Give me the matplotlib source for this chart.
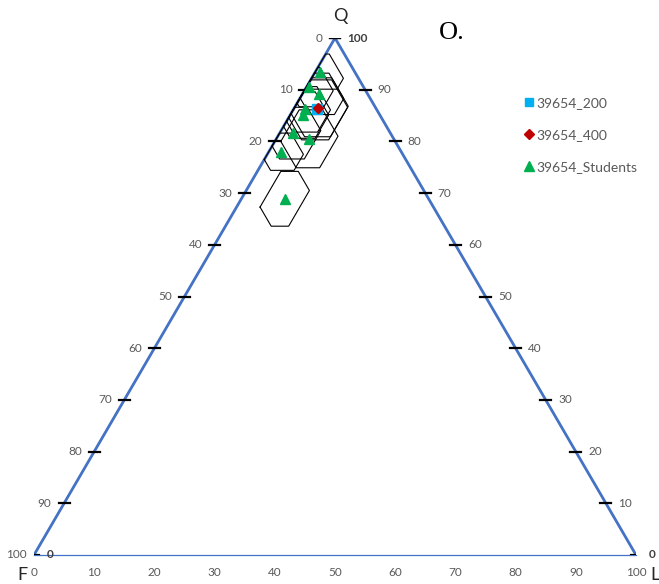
import numpy as np
import matplotlib.pyplot as plt
from matplotlib.lines import Line2D

# QFL compositions (percent): Q = quartz, F = feldspar, L = lithics
students_q = [93.5, 90.5, 89.2, 86.2, 85.1, 81.6, 80.5, 78.0, 68.9]
students_f = [5.7, 9.0, 8.0, 11.9, 12.8, 16.1, 14.0, 20.0, 23.9]
students_l = [0.8, 0.5, 2.8, 1.9, 2.1, 2.3, 5.5, 2.0, 7.2]
students_err_q = [3.4, 3.8, 4.0, 4.4, 4.5, 5.0, 5.6, 3.6, 5.3]
students_err_f = [3.2, 3.6, 3.6, 4.2, 4.3, 4.8, 5.0, 3.5, 4.9]
students_err_l = [4.5, 4.3, 4.5, 4.3, 4.3, 4.3, 4.5, 4.0, 3.3]

s200_q, s200_f, s200_l = [86.3], [9.9], [3.8]
s200_err = ([6.0], [5.5], [5.0])
s400_q, s400_f, s400_l = [86.4], [9.6], [4.0]
s400_err = ([5.5], [5.0], [4.8])

grid_ticks = list(range(0, 101, 10))

BLUE = '#4472C4'
GREY = '#595959'
H = np.sqrt(3) / 2


def to_xy(q, f, l):
    q = np.asarray(q, float)
    l = np.asarray(l, float)
    return l + q / 2, q * H


def hexagon(q0, f0, l0, dq, df, dl):
    """Corners of the error hexagon |Q-q0|<dq, |F-f0|<df, |L-l0|<dl (clipped at 0)."""
    q_lo, q_hi = max(0, q0 - dq), min(100, q0 + dq)
    l_lo, l_hi = max(0, l0 - dl), min(100, l0 + dl)
    f_lo, f_hi = max(0, f0 - df), min(100, f0 + df)
    s_lo, s_hi = 100 - f_hi, 100 - f_lo  # bounds on Q + L
    pts = []
    for q in (q_lo, q_hi):
        for l in (l_lo, l_hi):
            pts.append((q, l))
        for s in (s_lo, s_hi):
            pts.append((q, s - q))
    for l in (l_lo, l_hi):
        for s in (s_lo, s_hi):
            pts.append((s - l, l))
    eps = 1e-9
    good = [(q, l) for q, l in pts
            if q_lo - eps <= q <= q_hi + eps and l_lo - eps <= l <= l_hi + eps
            and s_lo - eps <= q + l <= s_hi + eps]
    good = np.array(good)
    x, y = to_xy(good[:, 0], 100 - good.sum(axis=1), good[:, 1])
    cx, cy = x.mean(), y.mean()
    order = np.argsort(np.arctan2(y - cy, x - cx))
    return np.append(x[order], x[order][0]), np.append(y[order], y[order][0])


fig = plt.figure(figsize=(6.59, 5.84), dpi=100)
ax = fig.add_axes([34 / 659, 29 / 584, 602 / 659, 517 / 584])
ax.set_xlim(0, 100)
ax.set_ylim(0, 100 * H)

# frame: only the bottom axis line is kept
for side in ('top', 'left', 'right'):
    ax.spines[side].set_visible(False)
ax.spines['bottom'].set_color(BLUE)
ax.spines['bottom'].set_linewidth(0.9)
ax.set_yticks([])
ax.set_xticks(grid_ticks)
ax.tick_params(axis='x', length=0, pad=9, labelsize=8.5, labelcolor=GREY)
for lab in ax.get_xticklabels():
    lab.set_fontfamily('Lato')

# triangle sides
ax.plot([0, 50, 100], [0, 100 * H, 0], color=BLUE, lw=2.0, zorder=2, solid_joinstyle='miter')

# tick dashes and percentage labels on both sides
for v in grid_ticks:
    # left side: F percentage
    xl, yl = to_xy(100 - v, v, 0)
    ax.plot([xl - 0.9, xl + 0.9], [yl, yl], color='black', lw=1.6, zorder=3)
    ax.annotate(str(v), (xl, yl), xytext=(-9 if v < 100 else -5, 0), textcoords='offset points',
                ha='right', va='center', fontsize=8.5, color=GREY, family='Lato')
    # right side: Q percentage
    xr, yr = to_xy(v, 0, 100 - v)
    ax.plot([xr - 0.9, xr + 0.9], [yr, yr], color='black', lw=1.6, zorder=3)
    bold = v in (0, 100)
    ax.annotate(str(v), (xr, yr), xytext=(9, 0), textcoords='offset points',
                ha='left', va='center', fontsize=8.5, family='Lato',
                color='#404040' if bold else GREY, fontweight='bold' if bold else 'normal')
# end value at the F corner
ax.annotate('0', (0, 0), xytext=(9, 0), textcoords='offset points', ha='left', va='center',
            fontsize=8.5, color='#404040', family='Lato', fontweight='bold')

# error hexagons
all_sets = [
    (s200_q, s200_f, s200_l) + s200_err,
    (s400_q, s400_f, s400_l) + s400_err,
    (students_q, students_f, students_l, students_err_q, students_err_f, students_err_l),
]
for qs, fs, ls, eq, ef, el in all_sets:
    for i in range(len(qs)):
        hx, hy = hexagon(qs[i], fs[i], ls[i], eq[i], ef[i], el[i])
        ax.plot(hx, hy, color='black', lw=0.8, zorder=4)

x200, y200 = to_xy(s200_q, s200_f, s200_l)
x400, y400 = to_xy(s400_q, s400_f, s400_l)
xs, ys = to_xy(students_q, students_f, students_l)
ax.plot(x200, y200, 's', color='#00B0F0', ms=6.5, zorder=5)
ax.plot(x400, y400, 'D', color='#C00000', ms=5.5, zorder=6)
ax.plot(xs, ys, '^', color='#00B050', ms=7, zorder=7)

# corner names and panel letter
fig.text(340 / 659, 1 - 16 / 584, 'Q', ha='center', va='center', fontsize=13, family='Lato', color='#262626')
fig.text(22 / 659, 1 - 575 / 584, 'F', ha='center', va='center', fontsize=13, family='Lato', color='#262626')
fig.text(655 / 659, 1 - 575 / 584, 'L', ha='center', va='center', fontsize=13, family='Lato', color='#262626')
fig.text(452 / 659, 1 - 33 / 584, 'O.', ha='center', va='center', fontsize=19, family='Liberation Serif')

handles = [
    Line2D([], [], ls='none', marker='s', color='#00B0F0', ms=6),
    Line2D([], [], ls='none', marker='D', color='#C00000', ms=5.5),
    Line2D([], [], ls='none', marker='^', color='#00B050', ms=7),
]
fig.legend(handles, ['39654_200', '39654_400', '39654_Students'], loc='upper left',
           bbox_to_anchor=(518 / 659, 1 - 91 / 584), frameon=False, handlelength=0.8,
           handletextpad=0.15, labelspacing=1.45, borderaxespad=0,
           prop={'family': 'Lato', 'size': 10}, labelcolor=GREY)

fig.savefig('out.png', dpi=100)
